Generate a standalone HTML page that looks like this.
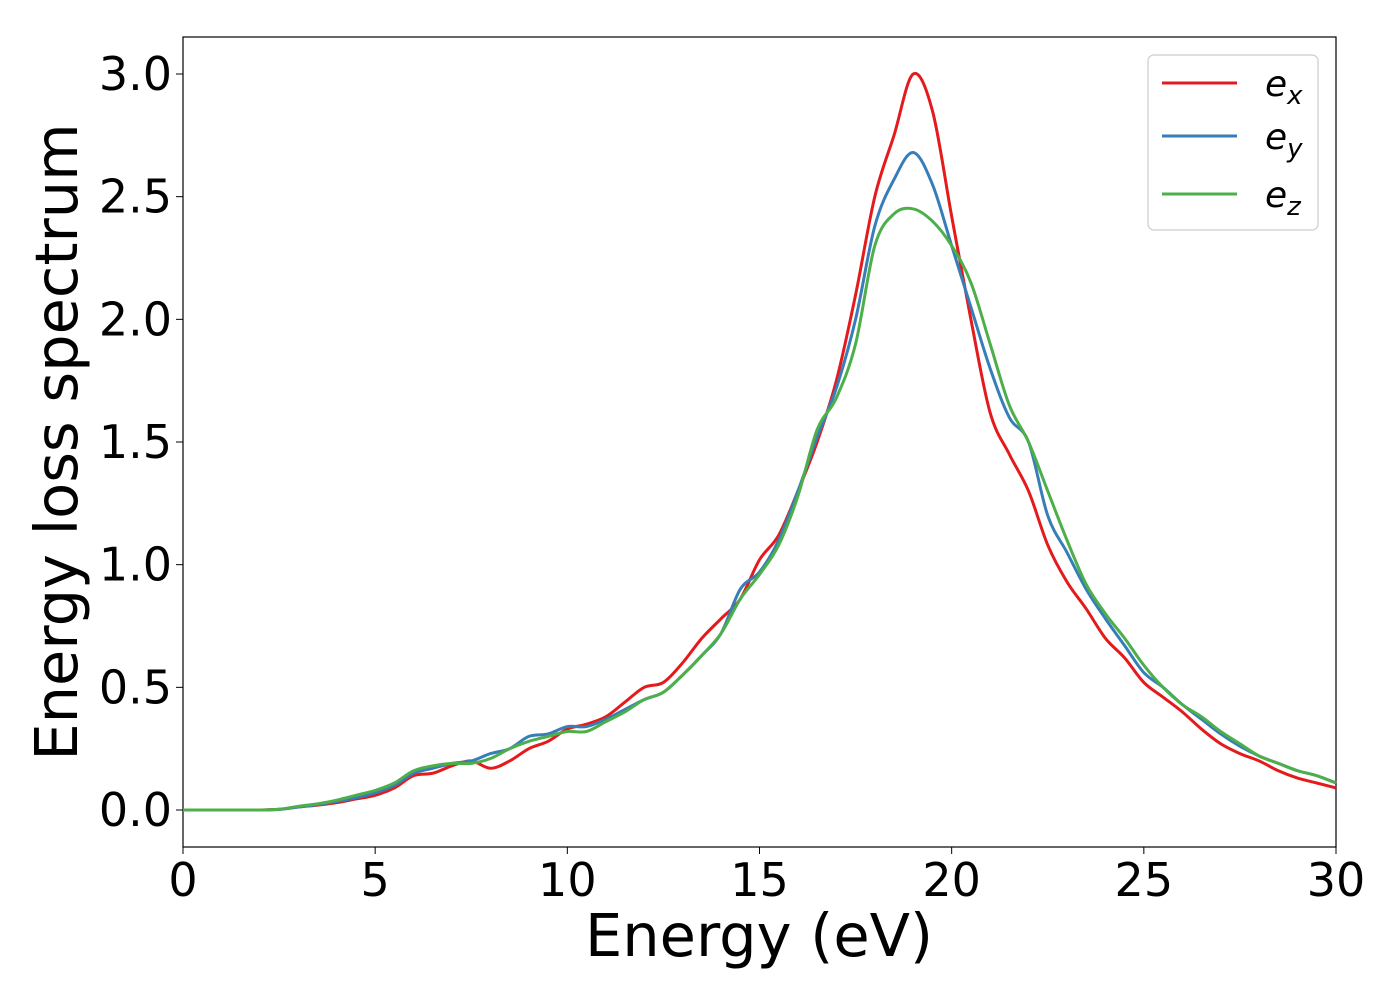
<!DOCTYPE html>
<html><head><meta charset="utf-8"><style>
body{margin:0;background:#fff;}
svg{display:block;font-family:"DejaVu Sans","Liberation Sans",sans-serif;}
</style></head><body>
<svg id="chart" width="1400" height="1000">
<rect x="183" y="37" width="1153" height="810" fill="#fff" stroke="#000" stroke-width="1.2"/>
<g id="ticks"></g>
<g id="lines"></g>
<text x="759" y="956" font-size="59" text-anchor="middle">Energy (eV)</text>
<text transform="translate(77,442) rotate(-90)" font-size="59" text-anchor="middle">Energy loss spectrum</text>
<g>
<rect x="1148" y="55" width="170" height="175" rx="6" fill="#fff" stroke="#ccc" stroke-width="1.2"/>
<line x1="1162" y1="83" x2="1237" y2="83" stroke="#e41a1c" stroke-width="3"/>
<text x="1265" y="96" font-size="36" font-style="italic">e<tspan font-size="26" dy="8">x</tspan></text>
<line x1="1162" y1="136" x2="1237" y2="136" stroke="#377eb8" stroke-width="3"/>
<text x="1265" y="149" font-size="36" font-style="italic">e<tspan font-size="26" dy="8">y</tspan></text>
<line x1="1162" y1="194" x2="1237" y2="194" stroke="#4daf4a" stroke-width="3"/>
<text x="1265" y="207" font-size="36" font-style="italic">e<tspan font-size="26" dy="8">z</tspan></text>
</g>
</svg>
<script>
const energies=[0,0.5,1,1.5,2,2.5,3,3.5,4,4.5,5,5.5,6,6.5,7,7.5,8,8.5,9,9.5,10,10.5,11,11.5,12,12.5,13,13.5,14,14.5,15,15.5,16,16.5,17,17.5,18,18.5,19,19.5,20,20.5,21,21.5,22,22.5,23,23.5,24,24.5,25,25.5,26,26.5,27,27.5,28,28.5,29,29.5,30];
const ex=[0,0,0,0,0,0.003,0.012,0.02,0.03,0.045,0.06,0.09,0.14,0.15,0.18,0.2,0.17,0.2,0.25,0.28,0.33,0.35,0.38,0.44,0.5,0.52,0.6,0.7,0.78,0.86,1.02,1.12,1.3,1.5,1.75,2.1,2.5,2.75,3.0,2.85,2.42,2.0,1.62,1.45,1.3,1.08,0.93,0.82,0.7,0.62,0.52,0.46,0.4,0.33,0.27,0.23,0.2,0.16,0.13,0.11,0.09];
const ey=[0,0,0,0,0,0.002,0.012,0.022,0.035,0.05,0.07,0.1,0.15,0.17,0.19,0.2,0.23,0.25,0.3,0.31,0.34,0.34,0.37,0.41,0.45,0.48,0.55,0.63,0.72,0.9,0.97,1.1,1.3,1.52,1.72,2.0,2.38,2.57,2.68,2.55,2.3,2.05,1.8,1.6,1.5,1.2,1.05,0.9,0.78,0.67,0.56,0.5,0.43,0.37,0.31,0.26,0.22,0.19,0.16,0.14,0.11];
const ez=[0,0,0,0,0,0.003,0.015,0.025,0.04,0.06,0.08,0.11,0.16,0.18,0.19,0.19,0.21,0.25,0.28,0.3,0.32,0.32,0.36,0.4,0.45,0.48,0.55,0.63,0.72,0.86,0.96,1.08,1.28,1.55,1.68,1.9,2.3,2.43,2.45,2.4,2.3,2.15,1.9,1.65,1.5,1.3,1.1,0.92,0.8,0.7,0.59,0.5,0.43,0.38,0.32,0.27,0.22,0.19,0.16,0.14,0.11];
const xTicks=[0,5,10,15,20,25,30];
const yTicks=[0.0,0.5,1.0,1.5,2.0,2.5,3.0];
const X=v=>183+v*(1153/30);
const Y=v=>810-v*(736/3);
const NS='http://www.w3.org/2000/svg';
const tg=document.getElementById('ticks');
xTicks.forEach(t=>{
 const l=document.createElementNS(NS,'line');l.setAttribute('x1',X(t));l.setAttribute('x2',X(t));l.setAttribute('y1',847);l.setAttribute('y2',854);l.setAttribute('stroke','#000');
 
 
 tg.appendChild(l);
 const s=document.createElementNS(NS,'text');s.setAttribute('x',X(t));s.setAttribute('y',896);s.setAttribute('font-size','46');s.setAttribute('text-anchor','middle');s.textContent=t;
 
 
 tg.appendChild(s);
});
yTicks.forEach(t=>{
 const l=document.createElementNS(NS,'line');l.setAttribute('x1',176);l.setAttribute('x2',183);l.setAttribute('y1',Y(t));l.setAttribute('y2',Y(t));l.setAttribute('stroke','#000');
 
 
 tg.appendChild(l);
 const s=document.createElementNS(NS,'text');s.setAttribute('x',172);s.setAttribute('y',Y(t)+16);s.setAttribute('font-size','46');s.setAttribute('text-anchor','end');s.textContent=t.toFixed(1);
 
 
 tg.appendChild(s);
});
function path(ys){
 const p=energies.map((e,i)=>[X(e),Y(ys[i])]);
 let d='M'+p[0][0]+','+p[0][1];
 for(let i=0;i<p.length-1;i++){
  const p0=p[Math.max(0,i-1)],p1=p[i],p2=p[i+1],p3=p[Math.min(p.length-1,i+2)];
  const c1=[p1[0]+(p2[0]-p0[0])/6,p1[1]+(p2[1]-p0[1])/6],c2=[p2[0]-(p3[0]-p1[0])/6,p2[1]-(p3[1]-p1[1])/6];
  d+=`C${c1[0]},${c1[1]} ${c2[0]},${c2[1]} ${p2[0]},${p2[1]}`;
 }
 return d;
}
const lg=document.getElementById('lines');
[[ex,'#e41a1c','line-ex'],[ey,'#377eb8','line-ey'],[ez,'#4daf4a','line-ez']].forEach(s=>{
 const pa=document.createElementNS(NS,'path');pa.setAttribute('d',path(s[0]));pa.setAttribute('fill','none');pa.setAttribute('stroke',s[1]);pa.setAttribute('stroke-width','3');
 
 
 lg.appendChild(pa);
});
</script>
</body></html>
